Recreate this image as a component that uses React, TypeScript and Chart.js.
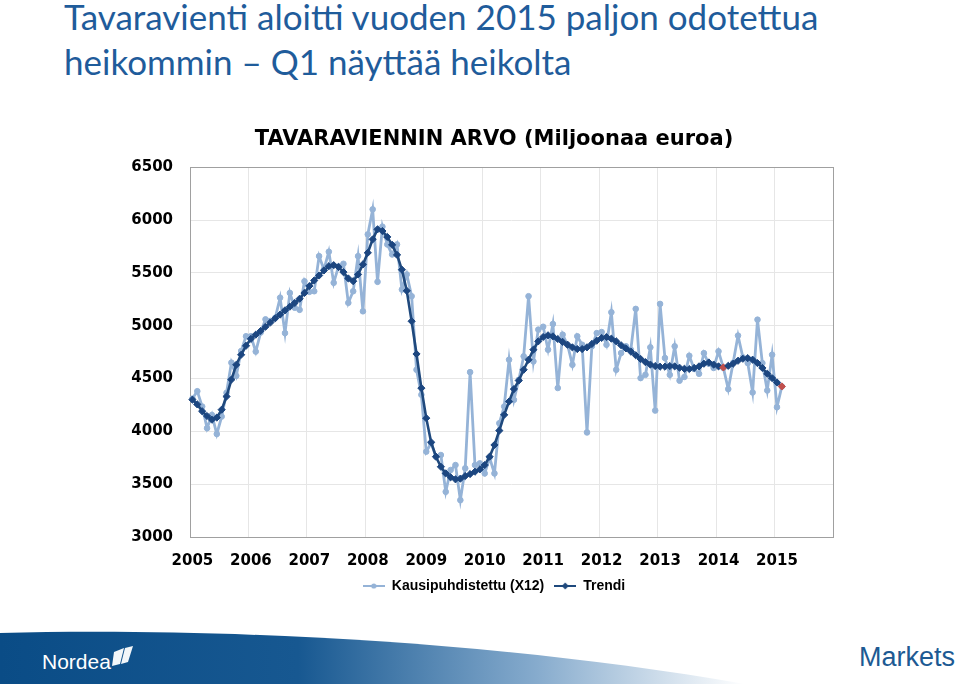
import React, { useEffect, useRef } from 'react';
import { Chart, registerables } from 'chart.js';

Chart.register(...registerables);

const PAGE_TITLE_1 = 'Tavaravienti aloitti vuoden 2015 paljon odotettua';
const PAGE_TITLE_2 = 'heikommin \u2013 Q1 näyttää heikolta';
const CHART_TITLE = 'TAVARAVIENNIN ARVO (Miljoonaa euroa)';
const SERIES_NAMES = ['Kausipuhdistettu (X12)', 'Trendi'];

const YEARS = ['2005', '2006', '2007', '2008', '2009', '2010', '2011', '2012', '2013', '2014', '2015'];
const MONTHS = ['01', '02', '03', '04', '05', '06', '07', '08', '09', '10', '11', '12'];

const Y_MIN = 3000;
const Y_MAX = 6500;
const Y_STEP = 500;

// Kausipuhdistettu (X12), monthly from Jan 2005
const SEASONAL = [
  4310, 4380, 4235, 4030, 4155, 3975, 4140, 4365, 4650, 4525, 4760, 4900,
  4900, 4755, 4935, 5060, 5045, 5075, 5265, 4930, 5310, 5170, 5150, 5420,
  5320, 5326, 5658, 5532, 5700, 5406, 5563, 5586, 5216, 5326, 5658, 5136,
  5864, 6101, 5415, 5937, 5769, 5674, 5769, 5342, 5485, 5279, 4583, 4346,
  3808, 3887, 3760, 3776, 3428, 3634, 3681, 3349, 3650, 4560, 3681, 3697,
  3602, 3750, 3602, 4077, 4235, 4678, 4298, 4488, 4710, 5279, 4662, 4963,
  4990, 4773, 5016, 4410, 4915, 4820, 4630, 4900, 4820, 3990, 4805, 4930,
  4940, 4820, 5127, 4583, 4741, 4805, 4773, 5159, 4504, 4535, 4795, 4197,
  5206, 4694, 4535, 4805, 4480, 4515, 4715, 4590, 4545, 4740, 4640, 4600,
  4757, 4600, 4400, 4650, 4906, 4700, 4646, 4368, 5057, 4646, 4387, 4725,
  4229, 4425,
];

// Trendi, monthly from Jan 2005
const TREND = [
  4300, 4255, 4190, 4145, 4110, 4130, 4205, 4330, 4490, 4630, 4725, 4810,
  4875, 4915, 4950, 4990, 5030, 5070, 5105, 5145, 5180, 5215, 5255, 5310,
  5375, 5428, 5475, 5523, 5563, 5573, 5555, 5507, 5447, 5421, 5485, 5580,
  5690, 5817, 5912, 5896, 5840, 5765, 5670, 5530, 5330, 5042, 4732, 4409,
  4125, 3897, 3760, 3665, 3602, 3565, 3546, 3552, 3577, 3596, 3618, 3640,
  3681, 3760, 3871, 4007, 4156, 4282, 4400, 4481, 4583, 4678, 4773, 4852,
  4893, 4909, 4899, 4874, 4846, 4820, 4795, 4779, 4779, 4795, 4827, 4858,
  4884, 4893, 4877, 4852, 4815, 4785, 4755, 4720, 4685, 4655, 4632, 4618,
  4612, 4612, 4618, 4615, 4602, 4592, 4590, 4600, 4615, 4640, 4652, 4632,
  4615, 4605, 4620, 4640, 4668, 4687, 4693, 4678, 4646, 4600, 4545, 4504,
  4463, 4425,
];

const HIGHLIGHTED_TREND_POINTS = [109, 121];

const CATEGORIES = YEARS.flatMap((y) => MONTHS.map((m) => `${y}-${m}`));

const C_SEASONAL = '#95b3d7';
const C_TREND = '#1f497d';
const C_TREND_POINT = '#1c4680';
const C_RED = '#c0504d';
const GRID = '#e6e6e6';

function makeIcon(color: string, kind: 'circle' | 'diamond') {
  const c = document.createElement('canvas');
  c.width = 22;
  c.height = 10;
  const g = c.getContext('2d') as CanvasRenderingContext2D;
  g.strokeStyle = color;
  g.lineWidth = 2;
  g.beginPath();
  g.moveTo(0, 5);
  g.lineTo(22, 5);
  g.stroke();
  g.fillStyle = color;
  g.beginPath();
  if (kind === 'circle') {
    g.arc(11, 5, 2.6, 0, Math.PI * 2);
  } else {
    g.moveTo(11, 1.5);
    g.lineTo(14.5, 5);
    g.lineTo(11, 8.5);
    g.lineTo(7.5, 5);
    g.closePath();
  }
  g.fill();
  return c;
}

const framePlugin = {
  id: 'frame',
  beforeDatasetsDraw(chart: any) {
    const { ctx, chartArea: a } = chart;
    ctx.save();
    ctx.strokeStyle = '#a0a0a0';
    ctx.lineWidth = 1;
    ctx.strokeRect(Math.round(a.left) + 0.5, Math.round(a.top) + 0.5, Math.round(a.width), Math.round(a.height));
    ctx.restore();
  },
};

function ExportChart() {
  const ref = useRef<HTMLCanvasElement | null>(null);
  useEffect(() => {
    if (!ref.current) return;
    const trendPointColors = TREND.map((_, i) => (HIGHLIGHTED_TREND_POINTS.includes(i) ? C_RED : C_TREND_POINT));
    const chart = new Chart(ref.current, {
      type: 'line',
      data: {
        labels: CATEGORIES,
        datasets: [
          {
            label: SERIES_NAMES[1],
            data: TREND,
            borderColor: C_TREND,
            borderWidth: 2.6,
            pointStyle: 'rectRot',
            pointRadius: 3.6,
            pointBackgroundColor: trendPointColors,
            pointBorderColor: trendPointColors,
            pointBorderWidth: 1,
            tension: 0,
            order: 0,
          },
          {
            label: SERIES_NAMES[0],
            data: SEASONAL,
            borderColor: C_SEASONAL,
            borderWidth: 2.8,
            pointStyle: 'circle',
            pointRadius: 2.8,
            pointBackgroundColor: C_SEASONAL,
            pointBorderColor: C_SEASONAL,
            pointBorderWidth: 1,
            tension: 0,
            order: 1,
          },
        ],
      },
      options: {
        responsive: false,
        animation: false,
        devicePixelRatio: 1,
        layout: { padding: 0 },
        plugins: {
          title: {
            display: true,
            text: CHART_TITLE,
            color: '#000000',
            font: { family: 'DejaVu Sans', size: 21, weight: 'bold' },
            padding: { top: 8, bottom: 15 },
          },
          legend: {
            display: true,
            position: 'bottom',
            labels: {
              usePointStyle: true,
              pointStyleWidth: 22,
              boxHeight: 10,
              padding: 10,
              color: '#000000',
              font: { family: 'Liberation Sans', size: 14, weight: 'bold' },
              generateLabels: () => [
                {
                  text: SERIES_NAMES[0],
                  pointStyle: makeIcon(C_SEASONAL, 'circle') as any,
                  datasetIndex: 1,
                  fillStyle: C_SEASONAL,
                  strokeStyle: C_SEASONAL,
                  lineWidth: 0,
                  hidden: false,
                  fontColor: '#000000',
                },
                {
                  text: SERIES_NAMES[1],
                  pointStyle: makeIcon(C_TREND, 'diamond') as any,
                  datasetIndex: 0,
                  fillStyle: C_TREND,
                  strokeStyle: C_TREND,
                  lineWidth: 0,
                  hidden: false,
                  fontColor: '#000000',
                },
              ],
            },
          },
          tooltip: { enabled: false },
        },
        scales: {
          x: {
            type: 'category',
            offset: true,
            border: { display: false },
            grid: {
              offset: true,
              drawTicks: false,
              color: (ctx: any) => (ctx.index % 12 === 0 && ctx.index > 0 ? GRID : 'rgba(0,0,0,0)'),
              lineWidth: 1,
            },
            ticks: {
              autoSkip: false,
              maxRotation: 0,
              minRotation: 0,
              padding: 15,
              color: '#000000',
              font: { family: 'DejaVu Sans', size: 15, weight: 'bold' },
              callback: (_v: any, i: number) => (i % 12 === 0 ? YEARS[i / 12] : ''),
            },
            afterFit: (s: any) => {
              s.height = 32;
            },
          },
          y: {
            position: 'left',
            min: Y_MIN,
            max: Y_MAX,
            border: { display: false },
            grid: { color: GRID, drawTicks: false, lineWidth: 1 },
            ticks: {
              stepSize: Y_STEP,
              padding: 17,
              color: '#000000',
              font: { family: 'DejaVu Sans', size: 15, weight: 'bold' },
              callback: (v: any) => String(v),
            },
            afterFit: (s: any) => {
              s.width = 162;
            },
          },
          yRight: {
            position: 'right',
            min: Y_MIN,
            max: Y_MAX,
            border: { display: false },
            grid: { display: false },
            ticks: { display: false },
            afterFit: (s: any) => {
              s.width = 127;
            },
          },
        },
      },
      plugins: [framePlugin],
    } as any);
    return () => chart.destroy();
  }, []);
  return <canvas ref={ref} width={932} height={484} style={{ display: 'block', width: 932, height: 484 }} />;
}

function Footer() {
  return (
    <svg width={960} height={56} viewBox="0 0 960 56" style={{ position: 'absolute', left: 0, top: 628, display: 'block' }}>
      <defs>
        <linearGradient id="band" x1="0" y1="0" x2="1" y2="0">
          <stop offset="0" stopColor="#0a4c86" />
          <stop offset="0.4" stopColor="#175891" />
          <stop offset="0.72" stopColor="#86abcd" />
          <stop offset="1" stopColor="#ffffff" />
        </linearGradient>
      </defs>
      <path d="M0,5 C 200,0 480,10 745,56 L0,56 Z" fill="url(#band)" />
      <text x={42} y={41} fill="#ffffff" fontFamily="Liberation Sans, Arial, sans-serif" fontSize={21}>
        Nordea
      </text>
      <path d="M114,24 L124,20 L120,36 L112,38 Z M125,20 L133,18 L128,34 L121,36 Z" fill="#ffffff" opacity={0.95} />
      <text x={859} y={38} fill="#1d5a93" fontFamily="Liberation Sans, Arial, sans-serif" fontSize={27}>
        Markets
      </text>
    </svg>
  );
}

export default function App() {
  return (
    <div
      style={{
        position: 'absolute',
        left: 0,
        top: 0,
        width: 960,
        height: 684,
        overflow: 'hidden',
        background: '#ffffff',
      }}
    >
      <div
        style={{
          position: 'absolute',
          left: 64,
          top: -6,
          fontFamily: 'Lato, "Open Sans", sans-serif',
          fontSize: 35,
          lineHeight: '45px',
          color: '#1f5c9b',
          whiteSpace: 'nowrap',
        }}
      >
        <div>{PAGE_TITLE_1}</div>
        <div>{PAGE_TITLE_2}</div>
      </div>
      <div style={{ position: 'absolute', left: 28, top: 119 }}>
        <ExportChart />
      </div>
      <Footer />
    </div>
  );
}
